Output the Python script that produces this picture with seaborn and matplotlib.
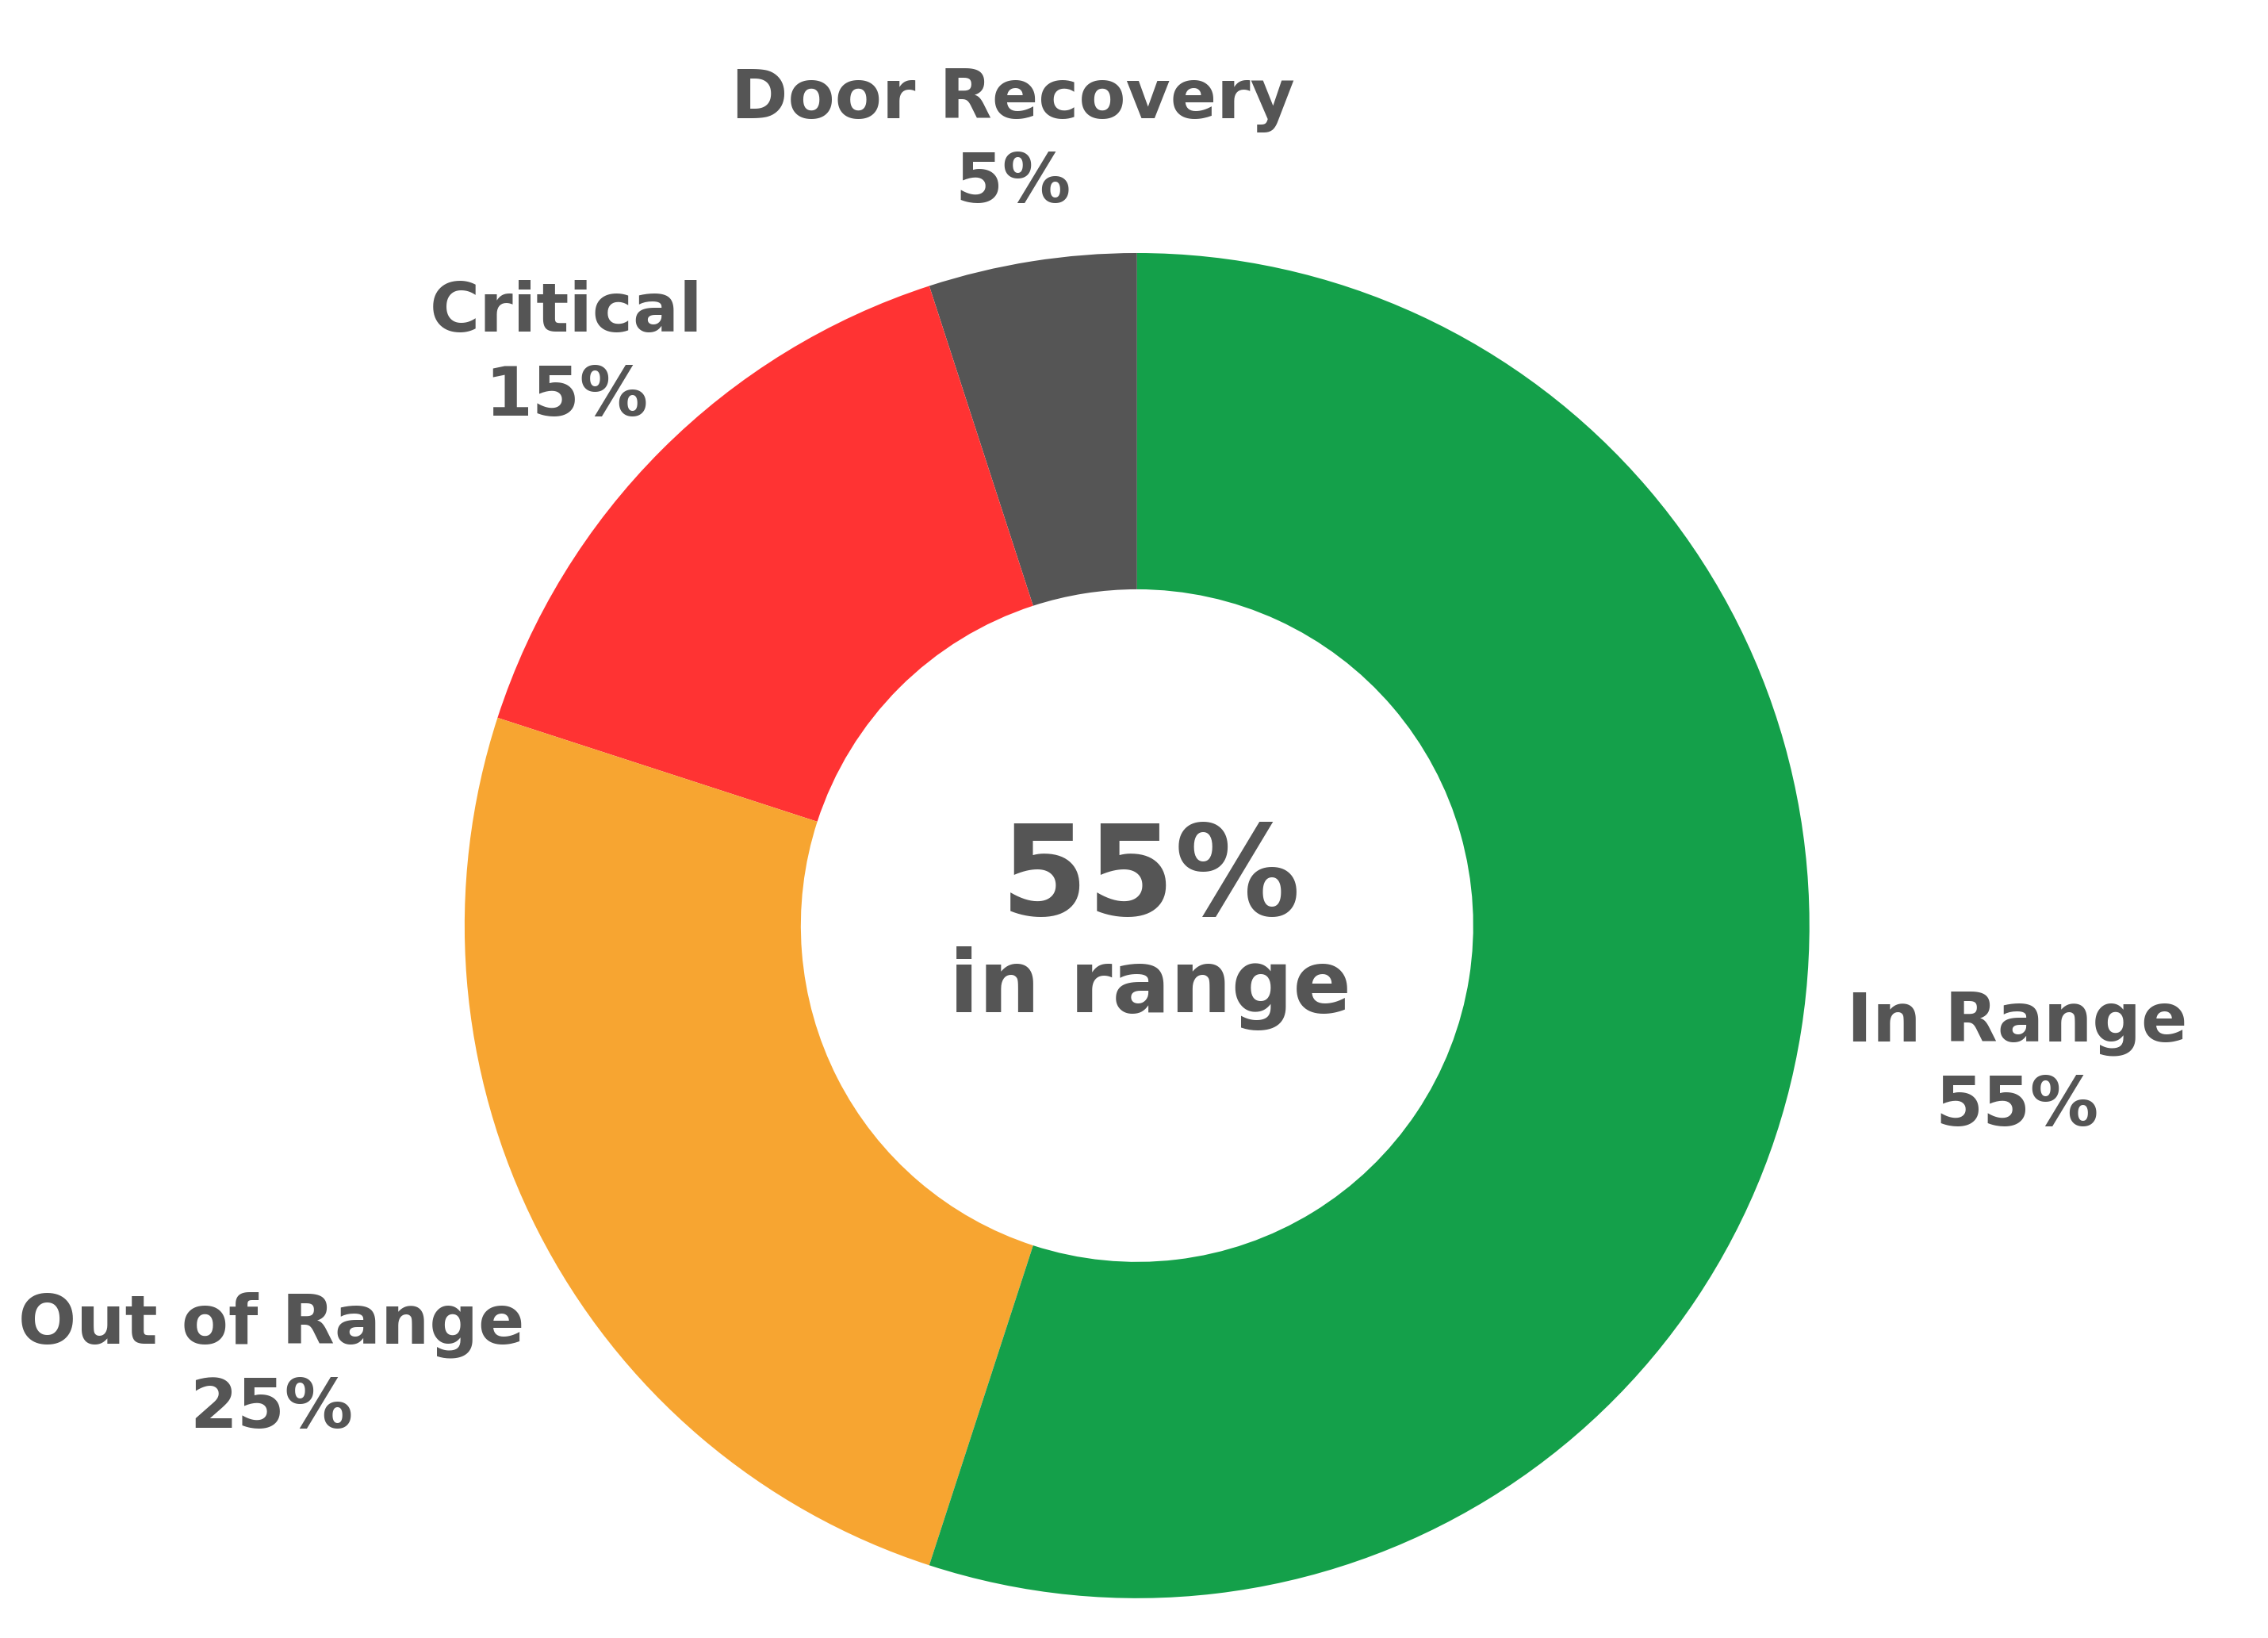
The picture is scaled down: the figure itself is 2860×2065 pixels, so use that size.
import numpy as np
import seaborn as sns
import matplotlib.pyplot as plt

sns.set_theme(style='white')
plt.rcParams['font.family'] = ['DejaVu Sans']

# datos del anillo (en orden contrario a las agujas del reloj desde arriba)
categories = ['Door Recovery', 'Critical', 'Out of Range', 'In Range']
shares = [5, 15, 25, 55]
colors = ['#555555', '#FF3333', '#F7A531', '#14A04A']
label_dist = [1.18, 1.20, 1.445, 1.325]
center_value = '55%'
center_caption = 'in range'

TEXT = '#555555'


def main():
    fig = plt.figure(figsize=(28.6, 20.65), dpi=100)
    ax = fig.add_axes([0, 0, 1, 1])

    ax.pie(
        shares,
        colors=colors,
        startangle=90,
        counterclock=True,
        radius=1.0,
        wedgeprops=dict(width=0.5, edgecolor='none', linewidth=0),
    )

    # etiquetas fuera del anillo, en el ángulo medio de cada sector
    total = sum(shares)
    start = 90.0
    for name, val, dist in zip(categories, shares, label_dist):
        span = 360.0 * val / total
        mid = np.deg2rad(start + span / 2)
        start += span
        ax.text(dist * np.cos(mid), dist * np.sin(mid),
                f'{name}\n{val}%', ha='center', va='center',
                fontsize=62, fontweight='bold', color=TEXT,
                linespacing=1.35)

    ax.text(0.02, 0.015, center_value, ha='center', va='baseline',
            fontsize=114, fontweight='bold', color=TEXT)
    ax.text(0.02, -0.129, center_caption, ha='center', va='baseline',
            fontsize=78, fontweight='bold', color=TEXT)

    ax.set_aspect('equal')
    ax.set_xlim(-1.691, 1.682)
    ax.set_ylim(-1.059, 1.376)
    ax.axis('off')

    fig.savefig('out.png', dpi=100, facecolor='white')
    plt.close(fig)


if __name__ == '__main__':
    main()
